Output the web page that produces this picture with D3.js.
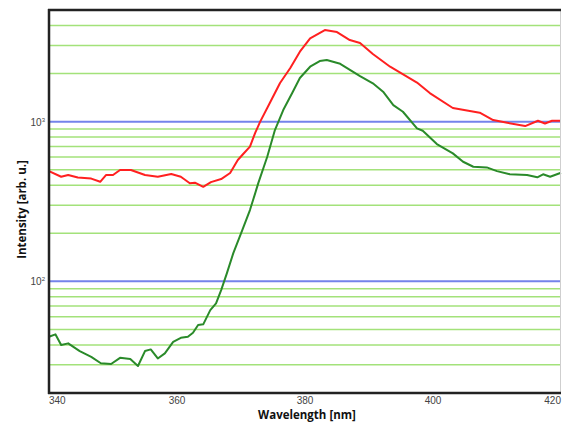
<!DOCTYPE html>
<html>
<head>
<meta charset="utf-8">
<script src="https://cdn.jsdelivr.net/npm/d3@7"></script>
<style>
  html, body { margin: 0; padding: 0; background: #fff; }
  svg { display: block; }
</style>
</head>
<body>
<svg id="chart" width="562" height="423"></svg>
<script>
// Wavelength (nm) and intensity (arb. u.)
const redWavelength = [340.0, 341.9, 343.0, 344.5, 346.6, 348.0, 348.9, 350.0, 351.1, 352.8, 355.0, 357.0, 359.1, 360.6, 362.0, 362.8, 364.1, 365.3, 366.9, 368.3, 369.5, 370.2, 371.4, 372.2, 373.0, 374.5, 376.1, 377.7, 379.2, 380.8, 383.1, 385.0, 387.0, 388.6, 390.6, 393.3, 397.5, 399.5, 403.1, 407.3, 409.4, 411.6, 414.4, 416.4, 417.5, 418.6, 420.0];
const redIntensity = [490, 452, 463, 447, 440, 420, 463, 463, 498, 498, 463, 452, 470, 452, 411, 415, 391, 418, 437, 477, 575, 618, 697, 848, 1000, 1308, 1745, 2166, 2740, 3323, 3746, 3639, 3243, 3106, 2651, 2207, 1757, 1510, 1217, 1137, 1023, 984, 938, 1013, 973, 1013, 1013];

const greenWavelength = [340.0, 341.0, 341.9, 343.0, 344.8, 346.6, 348.1, 349.7, 351.1, 352.7, 353.9, 355.0, 355.9, 357.0, 358.1, 359.4, 360.6, 361.7, 362.5, 363.3, 364.1, 365.2, 366.1, 366.9, 367.8, 368.8, 370.2, 371.4, 372.7, 374.1, 375.3, 376.6, 378.0, 379.2, 380.8, 382.3, 383.4, 385.5, 388.6, 390.6, 392.2, 393.8, 395.3, 397.5, 398.4, 400.6, 403.1, 404.7, 406.3, 408.4, 410.0, 412.0, 414.7, 416.3, 417.2, 418.3, 420.0];
const greenIntensity = [45.0, 46.6, 39.9, 40.9, 36.6, 33.7, 30.7, 30.4, 33.2, 32.6, 29.5, 36.6, 37.5, 32.9, 35.4, 41.8, 44.3, 45.0, 47.7, 53.3, 53.8, 66.1, 72.8, 88.2, 112.7, 150.3, 209.5, 279.5, 412, 603, 886, 1182, 1510, 1875, 2207, 2396, 2431, 2301, 1930, 1737, 1539, 1270, 1153, 908, 877, 724, 633, 561, 522, 517, 490, 468, 463, 448, 468, 452, 479];

const xTicks = [340, 360, 380, 400, 420];
const xTickLabels = ["340", "360", "380", "400", "420"];
const yMajorTicks = [100, 1000];
const yMajorLabels = ["10", "10"];
const yMajorExponents = ["2", "3"];
const yMinorTicks = [30, 40, 50, 60, 70, 80, 90, 200, 300, 400, 500, 600, 700, 800, 900, 2000, 3000, 4000];

const xDomain = [340, 420];
const yDomain = [20, 5000];

const margin = { left: 49, right: 1, top: 10, bottom: 30 };
const W = 562, H = 423;

const svg = d3.select("#chart");
const x = d3.scaleLinear().domain(xDomain).range([margin.left, W - margin.right]);
const y = d3.scaleLog().domain(yDomain).range([H - margin.bottom, margin.top]);

const plotL = x.range()[0], plotR = x.range()[1];
const plotT = y.range()[1], plotB = y.range()[0];

// Minor grid lines
svg.append("g").selectAll("line").data(yMinorTicks).join("line")
  .attr("x1", plotL).attr("x2", plotR)
  .attr("y1", d => y(d)).attr("y2", d => y(d))
  .attr("stroke", "#a3e27a").attr("stroke-width", 1.5);

// Major grid lines
svg.append("g").selectAll("line").data(yMajorTicks).join("line")
  .attr("x1", plotL).attr("x2", plotR)
  .attr("y1", d => y(d)).attr("y2", d => y(d))
  .attr("stroke", "#7483ea").attr("stroke-width", 2);

// Curves
const redData = redWavelength.map((w, i) => [w, redIntensity[i]]);
const greenData = greenWavelength.map((w, i) => [w, greenIntensity[i]]);
const line = d3.line().x(d => x(d[0])).y(d => y(d[1]));

svg.append("path").datum(greenData)
  .attr("d", line).attr("fill", "none")
  .attr("stroke", "#2a8a2a").attr("stroke-width", 2).attr("stroke-linejoin", "round");
svg.append("path").datum(redData)
  .attr("d", line).attr("fill", "none")
  .attr("stroke", "#ff2020").attr("stroke-width", 2).attr("stroke-linejoin", "round");

// Frame
svg.append("line").attr("x1", plotR - 0.5).attr("x2", plotR - 0.5).attr("y1", plotT).attr("y2", plotB)
  .attr("stroke", "#cfcfcf").attr("stroke-width", 1);
svg.append("line").attr("x1", plotL - 1).attr("x2", plotR).attr("y1", plotT).attr("y2", plotT)
  .attr("stroke", "#222").attr("stroke-width", 2.5);
svg.append("line").attr("x1", plotL - 1).attr("x2", plotR).attr("y1", plotB).attr("y2", plotB)
  .attr("stroke", "#222").attr("stroke-width", 2.5);
svg.append("line").attr("x1", plotL).attr("x2", plotL).attr("y1", plotT - 1).attr("y2", plotB + 1)
  .attr("stroke", "#222").attr("stroke-width", 2.5);

// X tick labels
svg.append("g").selectAll("text").data(xTicks).join("text")
  .attr("x", (d, i) => x(d))
  .attr("y", plotB + 11)
  .attr("text-anchor", (d, i) => i === 0 ? "start" : (i === xTicks.length - 1 ? "end" : "middle"))
  .attr("font-family", "'Liberation Sans', Arial, sans-serif")
  .attr("font-size", 10)
  .attr("fill", "#444")
  .text((d, i) => xTickLabels[i]);

// Y tick labels (10^n)
const yl = svg.append("g").selectAll("text").data(yMajorTicks).join("text")
  .attr("x", plotL - 4)
  .attr("y", d => y(d) + 4)
  .attr("text-anchor", "end")
  .attr("font-family", "'Liberation Sans', Arial, sans-serif")
  .attr("font-size", 10)
  .attr("fill", "#444");
yl.append("tspan").text((d, i) => yMajorLabels[i]);
yl.append("tspan").attr("dy", -4).attr("font-size", 6).text((d, i) => yMajorExponents[i]);

// Axis titles
svg.append("text")
  .attr("x", (plotL + plotR) / 2 + 2)
  .attr("y", H - 4)
  .attr("text-anchor", "middle")
  .attr("font-family", "'Open Sans', sans-serif")
  .attr("font-weight", "bold")
  .attr("font-size", 11.5)
  .attr("fill", "#111")
  .text("Wavelength [nm]");

svg.append("text")
  .attr("transform", `translate(26, ${(plotT + plotB) / 2 + 8}) rotate(-90)`)
  .attr("text-anchor", "middle")
  .attr("font-family", "'Open Sans', sans-serif")
  .attr("font-weight", "bold")
  .attr("font-size", 11.5)
  .attr("fill", "#111")
  .text("Intensity [arb. u.]");
</script>
</body>
</html>
